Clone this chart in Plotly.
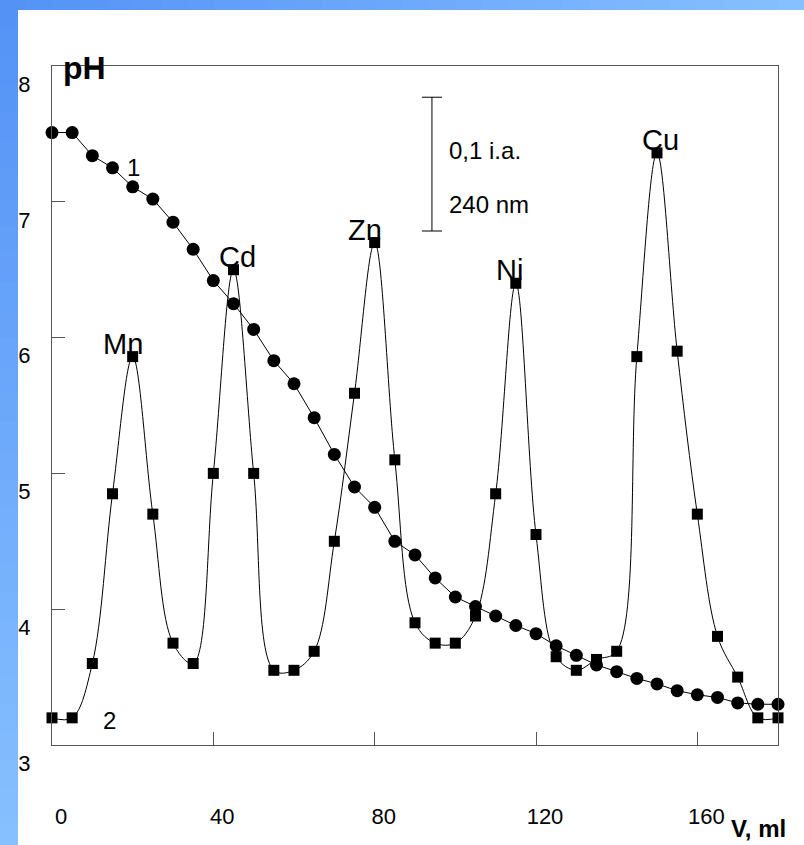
import plotly.graph_objects as go

# Titrant volume, ml
volume = [0, 5, 10, 15, 20, 25, 30, 35, 40, 45, 50, 55, 60, 65, 70, 75, 80, 85, 90,
          95, 100, 105, 110, 115, 120, 125, 130, 135, 140, 145, 150, 155, 160, 165,
          170, 175, 180]

# Curve 1: pH of the eluate
ph = [7.51, 7.51, 7.34, 7.25, 7.11, 7.02, 6.85, 6.65, 6.42, 6.25, 6.06, 5.83, 5.66,
      5.41, 5.14, 4.90, 4.75, 4.50, 4.40, 4.23, 4.09, 4.02, 3.95, 3.88, 3.82, 3.73,
      3.66, 3.59, 3.54, 3.49, 3.45, 3.40, 3.37, 3.35, 3.31, 3.30, 3.30]

# Curve 2: absorbance at 240 nm, drawn in pH-axis units
absorb = [3.20, 3.20, 3.60, 4.85, 5.86, 4.70, 3.75, 3.60, 5.00, 6.50, 5.00, 3.55,
          3.55, 3.69, 4.50, 5.59, 6.70, 5.10, 3.90, 3.75, 3.75, 3.95, 4.85, 6.40,
          4.55, 3.65, 3.55, 3.63, 3.69, 5.86, 7.36, 5.90, 4.70, 3.80, 3.50, 3.20, 3.20]

# Peak labels
metals = ["Mn", "Cd", "Zn", "Ni", "Cu"]
peak_volume = [20, 45, 80, 115, 150]
peak_value = [5.86, 6.50, 6.70, 6.40, 7.36]

x_ticks = [0, 40, 80, 120, 160]
y_ticks = [3, 4, 5, 6, 7, 8]

W, H = 804, 845
ML, MR, MT, MB = 52, 26, 66, 100
FONT = "Liberation Sans, Arial"

fig = go.Figure()

fig.add_trace(go.Scatter(
    x=volume, y=absorb, mode="lines+markers",
    line=dict(color="black", width=1, shape="spline", smoothing=1.0),
    marker=dict(symbol="square", size=11, color="black"),
    cliponaxis=False, showlegend=False))

fig.add_trace(go.Scatter(
    x=volume, y=ph, mode="lines+markers",
    line=dict(color="black", width=1),
    marker=dict(symbol="circle", size=13, color="black"),
    cliponaxis=False, showlegend=False))

# Peak labels sit just above each maximum, nudged sideways a little
label_dx = [-10, 4, -10, -6, 3]
for name, xv, yv, dx in zip(metals, peak_volume, peak_value, label_dx):
    fig.add_annotation(x=xv, y=yv, text=name, showarrow=False,
                       yanchor="middle", yshift=13, xshift=dx,
                       font=dict(family=FONT, size=29, color="black"))

# Curve numbers
fig.add_annotation(x=20.2, y=7.25, text="1", showarrow=False,
                   font=dict(family=FONT, size=24, color="black"))
fig.add_annotation(x=14.2, y=3.18, text="2", showarrow=False,
                   font=dict(family=FONT, size=24, color="black"))

# Absorbance scale bar
bar_x, bar_lo, bar_hi, cap = 94.2, 6.785, 7.77, 2.5
fig.add_shape(type="line", x0=bar_x, x1=bar_x, y0=bar_lo, y1=bar_hi,
              line=dict(color="black", width=1))
for yy in (bar_lo, bar_hi):
    fig.add_shape(type="line", x0=bar_x - cap, x1=bar_x + cap, y0=yy, y1=yy,
                  line=dict(color="black", width=1))
fig.add_annotation(x=bar_x + 3.8, y=7.38, text="0,1 i.a.", showarrow=False,
                   xanchor="left", font=dict(family=FONT, size=24, color="black"))
fig.add_annotation(x=bar_x + 3.8, y=6.98, text="240 nm", showarrow=False,
                   xanchor="left", font=dict(family=FONT, size=24, color="black"))

# Axis titles
pw, ph_px = W - ML - MR, H - MT - MB
def px_to_paper(px, py):
    return (px - ML) / pw, (H - MB - py) / ph_px

tx, ty = px_to_paper(84, 68)
fig.add_annotation(xref="paper", yref="paper", x=tx, y=ty, text="<b>pH</b>",
                   xanchor="center", yanchor="middle",
                   showarrow=False, font=dict(family=FONT, size=32, color="black"))
tx, ty = px_to_paper(758, 828)
fig.add_annotation(xref="paper", yref="paper", x=tx, y=ty, text="<b>V, ml</b>",
                   xanchor="center", yanchor="middle",
                   showarrow=False, font=dict(family=FONT, size=24, color="black"))

# Blue gradient frame along the left and top edges
def blend(c0, c1, t):
    return "rgb({},{},{})".format(*[round(a + (b - a) * t) for a, b in zip(c0, c1)])

c_start, c_end = (84, 146, 246), (134, 192, 255)
steps = 30
for i in range(steps):
    t = i / (steps - 1)
    y0p = H * i / steps
    y1p = H * (i + 1) / steps + 1
    x0, y0 = px_to_paper(0, y1p)
    x1, y1 = px_to_paper(18, y0p)
    fig.add_shape(type="rect", xref="paper", yref="paper", x0=x0, x1=x1, y0=y0, y1=y1,
                  fillcolor=blend(c_start, c_end, t), line=dict(width=0), layer="below")
    x0p = W * i / steps
    x1p = W * (i + 1) / steps + 1
    x0, y0 = px_to_paper(x0p, 10)
    x1, y1 = px_to_paper(x1p, 0)
    fig.add_shape(type="rect", xref="paper", yref="paper", x0=x0, x1=x1, y0=y0, y1=y1,
                  fillcolor=blend(c_start, c_end, t), line=dict(width=0), layer="below")

axis_font = dict(family=FONT, size=22, color="black")
fig.update_xaxes(range=[0, 180], tickvals=x_ticks, ticks="inside", ticklen=13,
                 tickcolor="#555", showgrid=False, zeroline=False,
                 showline=True, linecolor="#555", linewidth=1, mirror=True,
                 tickfont=axis_font, ticklabelstandoff=52, ticklabelshift=9)
fig.update_yaxes(range=[3, 8], tickvals=y_ticks, ticks="inside", ticklen=13,
                 tickcolor="#555", showgrid=False, zeroline=False,
                 showline=True, linecolor="#555", linewidth=1, mirror=True,
                 tickfont=axis_font, ticklabelstandoff=16, ticklabelshift=18)

fig.update_layout(width=W, height=H, margin=dict(l=ML, r=MR, t=MT, b=MB),
                  paper_bgcolor="white", plot_bgcolor="white", showlegend=False)

fig.write_html("out.html")
